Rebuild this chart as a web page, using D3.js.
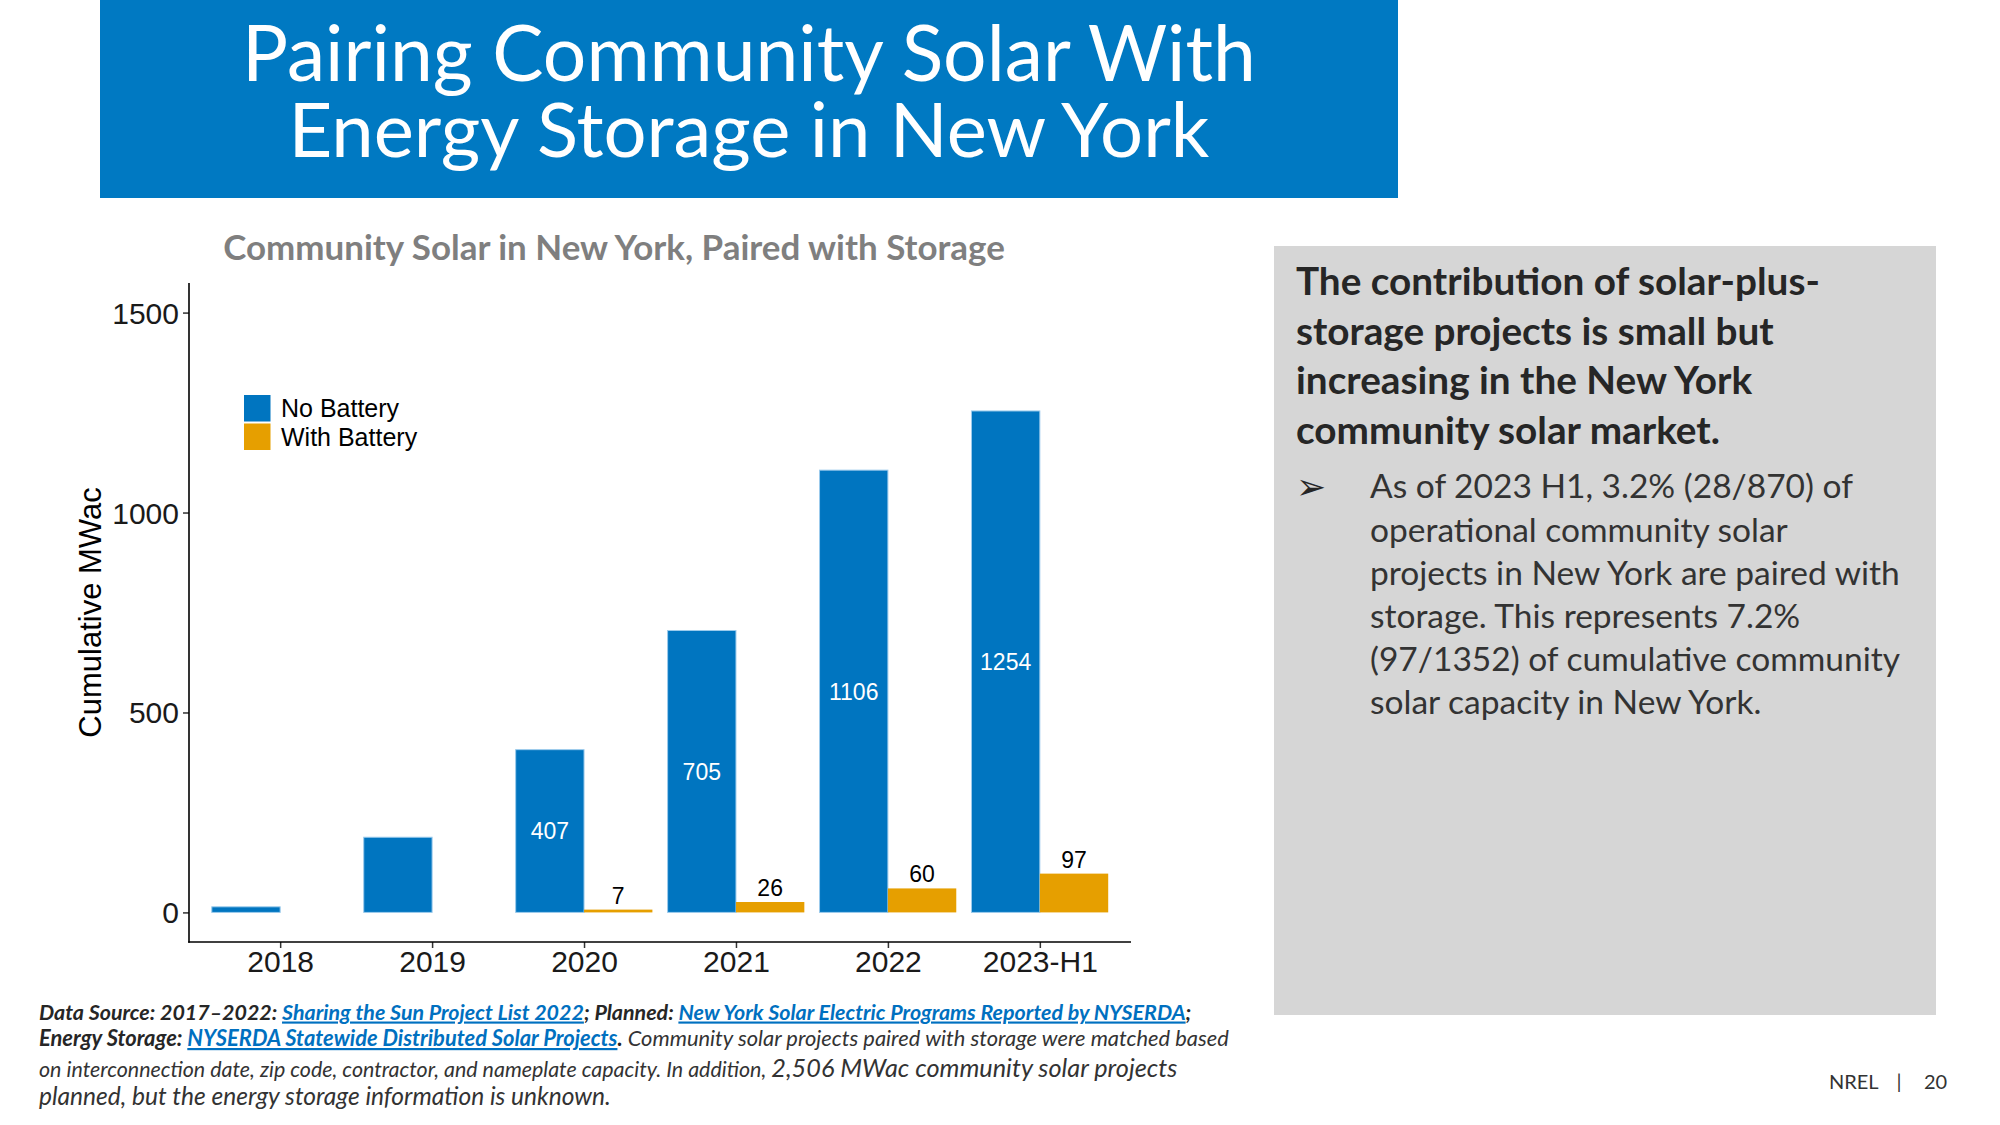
<!DOCTYPE html>
<html>
<head>
<meta charset="utf-8">
<script src="https://cdn.jsdelivr.net/npm/d3@7"></script>
<style>
  html, body { margin: 0; padding: 0; background: #ffffff; }
  svg { display: block; }
</style>
</head>
<body>
<svg id="slide" width="2000" height="1125"></svg>
<script>
// ---------------- DATA ----------------
const categories = ["2018", "2019", "2020", "2021", "2022", "2023-H1"];
const noBattery = [14, 188, 407, 705, 1106, 1254];
const withBattery = [null, null, 7, 26, 60, 97];
const seriesNames = ["No Battery", "With Battery"];
const yTicks = [0, 500, 1000, 1500];

const slideTitle = ["Pairing Community Solar With", "Energy Storage in New York"];
const chartTitle = "Community Solar in New York, Paired with Storage";
const yAxisTitle = "Cumulative MWac";
const headingLines = ["The contribution of solar-plus-", "storage projects is small but",
  "increasing in the New York", "community solar market."];
const bulletLines = ["As of 2023 H1, 3.2% (28/870) of", "operational community solar",
  "projects in New York are paired with", "storage. This represents 7.2%",
  "(97/1352) of cumulative community", "solar capacity in New York."];

// ---------------- SETUP ----------------
const svg = d3.select("#slide");
const BLUE = "#0075c0", ORANGE = "#e69f00";
const CAL = "Lato, 'Open Sans', sans-serif";
const ARIAL = "'Liberation Sans', Arial, sans-serif";

// fit a text element to a target width by scaling its font-size
function fit(sel, target) {
  const fs = parseFloat(sel.attr("font-size"));
  const w = sel.node().getComputedTextLength();
  sel.attr("font-size", (fs * target / w).toFixed(2));
  return fs * target / w;
}

// ---------------- HEADER ----------------
svg.append("rect").attr("x", 100).attr("y", 0).attr("width", 1298).attr("height", 198)
  .attr("fill", "#0079c2");
const titleBase = [81, 157], titleW = [1014, 921];
slideTitle.forEach((t, i) => {
  const el = svg.append("text").attr("x", 749).attr("y", titleBase[i])
    .attr("text-anchor", "middle").attr("fill", "#ffffff")
    .attr("font-family", CAL).attr("font-size", 80).text(t);
  fit(el, titleW[i]);
});

// ---------------- CHART ----------------
const ct = svg.append("text").attr("x", 614).attr("y", 260).attr("text-anchor", "middle")
  .attr("fill", "#7f7f7f").attr("font-family", CAL).attr("font-weight", 700)
  .attr("font-size", 32).text(chartTitle);
fit(ct, 782);

const plot = { left: 189, right: 1131, top: 283, bottom: 942 };
const x = d3.scalePoint().domain(categories).range([plot.left, plot.right]).padding(0.6);
const step = x.step();
const xs = d3.scaleBand().domain(seriesNames).range([-0.45 * step, 0.45 * step]).padding(0);
const y = d3.scaleLinear().domain([-74, 1574]).range([plot.bottom, plot.top]);
const color = d3.scaleOrdinal().domain(seriesNames).range([BLUE, ORANGE]);

const rows = categories.map((c, i) => ({ cat: c, nb: noBattery[i], wb: withBattery[i] }));

const g = svg.append("g");
// No Battery bars
g.selectAll("rect.nb").data(rows).join("rect").attr("class", "nb")
  .attr("x", d => x(d.cat) + xs("No Battery"))
  .attr("width", xs.bandwidth())
  .attr("y", d => y(d.nb))
  .attr("height", d => y(0) - y(d.nb))
  .attr("fill", color("No Battery"))
  .attr("stroke", "#9ccbec").attr("stroke-width", 1);
// With Battery bars
g.selectAll("rect.wb").data(rows.filter(d => d.wb != null)).join("rect").attr("class", "wb")
  .attr("x", d => x(d.cat) + xs("With Battery"))
  .attr("width", xs.bandwidth())
  .attr("y", d => y(d.wb))
  .attr("height", d => y(0) - y(d.wb))
  .attr("fill", color("With Battery"));

// value labels
g.selectAll("text.nbl").data(rows.filter(d => d.wb != null)).join("text").attr("class", "nbl")
  .attr("x", d => x(d.cat) + xs("No Battery") + xs.bandwidth() / 2)
  .attr("y", d => y(d.nb / 2)).attr("dy", "0.36em")
  .attr("text-anchor", "middle").attr("fill", "#ffffff")
  .attr("font-family", ARIAL).attr("font-size", 23).text(d => d.nb);
g.selectAll("text.wbl").data(rows.filter(d => d.wb != null)).join("text").attr("class", "wbl")
  .attr("x", d => x(d.cat) + xs("With Battery") + xs.bandwidth() / 2)
  .attr("y", d => y(d.wb) - 6)
  .attr("text-anchor", "middle").attr("fill", "#000000")
  .attr("font-family", ARIAL).attr("font-size", 23).text(d => d.wb);

// axes
const yAxis = svg.append("g").attr("transform", `translate(${plot.left},0)`)
  .call(d3.axisLeft(y).tickValues(yTicks).tickFormat(d3.format("d")).tickSize(6).tickPadding(4));
const xAxis = svg.append("g").attr("transform", `translate(0,${plot.bottom})`)
  .call(d3.axisBottom(x).tickSize(6).tickPadding(5));
[yAxis, xAxis].forEach(a => {
  a.select(".domain").remove();
  a.selectAll(".tick line").attr("stroke", "#333333").attr("stroke-width", 1.5);
  a.selectAll(".tick text").attr("font-family", ARIAL).attr("font-size", 30).attr("fill", "#1a1a1a");
});
yAxis.selectAll(".tick text").attr("dy", "0.35em");
xAxis.selectAll(".tick text").attr("dy", "0.64em");
svg.append("line").attr("x1", plot.left).attr("x2", plot.left).attr("y1", plot.top).attr("y2", plot.bottom + 0.8)
  .attr("stroke", "#000").attr("stroke-width", 1.6);
svg.append("line").attr("x1", plot.left - 0.8).attr("x2", plot.right).attr("y1", plot.bottom).attr("y2", plot.bottom)
  .attr("stroke", "#000").attr("stroke-width", 1.6);

svg.append("text").attr("transform", `translate(101,${(plot.top + plot.bottom) / 2}) rotate(-90)`)
  .attr("text-anchor", "middle").attr("font-family", ARIAL).attr("font-size", 31)
  .attr("fill", "#000").text(yAxisTitle);

// legend
const leg = svg.append("g");
seriesNames.forEach((s, i) => {
  leg.append("rect").attr("x", 244).attr("y", 395 + i * 28.5).attr("width", 26.5).attr("height", 26.5)
    .attr("fill", color(s));
  leg.append("text").attr("x", 281).attr("y", 417 + i * 28.5)
    .attr("font-family", ARIAL).attr("font-size", 25).attr("fill", "#000").text(s);
});

// ---------------- RIGHT PANEL ----------------
svg.append("rect").attr("x", 1274).attr("y", 246).attr("width", 662).attr("height", 769)
  .attr("fill", "#d6d6d6");
const headBase = [295, 344.5, 394, 443.5];
let hSize = null;
headingLines.forEach((t, i) => {
  const el = svg.append("text").attr("x", 1296).attr("y", headBase[i])
    .attr("font-family", CAL).attr("font-weight", 700).attr("fill", "#262626")
    .attr("font-size", hSize || 40).text(t);
  if (i === 0) hSize = fit(el, 524);
});
svg.append("text").attr("x", 1296).attr("y", 499).attr("font-family", "'DejaVu Sans', sans-serif")
  .attr("font-size", 36).attr("fill", "#262626").text("➢");
const bulBase = [498, 541.5, 585, 628.3, 671, 714];
const bulEls = bulletLines.map((t, i) => svg.append("text").attr("x", 1370).attr("y", bulBase[i])
  .attr("font-family", CAL).attr("fill", "#333333").attr("font-size", 30).text(t));
const bSize = fit(bulEls[2], 530);
bulEls.forEach(e => e.attr("font-size", bSize));

// ---------------- FOOTNOTE ----------------
const foot = [
  { y: 1019.5, w: 1153, parts: [
    { t: "Data Source: 2017–2022: ", b: 1 }, { t: "Sharing the Sun Project List 2022", b: 1, l: 1 },
    { t: "; Planned: ", b: 1 }, { t: "New York Solar Electric Programs Reported by NYSERDA", b: 1, l: 1 },
    { t: ";", b: 1 }] },
  { y: 1046, w: 1190, parts: [
    { t: "Energy Storage: ", b: 1 }, { t: "NYSERDA Statewide Distributed Solar Projects", b: 1, l: 1 },
    { t: ".", b: 1 }, { t: " Community solar projects paired with storage were matched based" }] },
  { y: 1076.5, w: 1139, parts: [
    { t: "on interconnection date, zip code, contractor, and nameplate capacity. In addition, " },
    { t: "2,506 MWac community solar projects", big: 1 }] },
  { y: 1105, w: 572, parts: [
    { t: "planned, but the energy storage information is unknown.", big: 1 }] }
];
foot.forEach(line => {
  const el = svg.append("text").attr("x", 39).attr("y", line.y).attr("font-family", CAL)
    .attr("font-style", "italic").attr("font-size", 20).attr("fill", "#262626");
  line.parts.forEach(p => {
    const ts = el.append("tspan").text(p.t)
      .attr("font-weight", p.b ? 700 : 400)
      .attr("font-size", p.big ? "1.18em" : "1em");
    if (p.l) ts.attr("fill", "#0070c0").attr("text-decoration", "underline");
    else if (!p.b) ts.attr("fill", "#333333");
  });
  fit(el, line.w);
});

// page number
svg.append("text").attr("x", 1829).attr("y", 1089).attr("font-family", CAL).attr("font-size", 20)
  .attr("fill", "#333333").text("NREL");
svg.append("text").attr("x", 1899).attr("y", 1089).attr("text-anchor", "middle").attr("font-family", CAL)
  .attr("font-size", 20).attr("fill", "#333333").text("|");
svg.append("text").attr("x", 1924).attr("y", 1089).attr("font-family", CAL).attr("font-size", 20)
  .attr("fill", "#333333").text("20");
</script>
</body>
</html>
